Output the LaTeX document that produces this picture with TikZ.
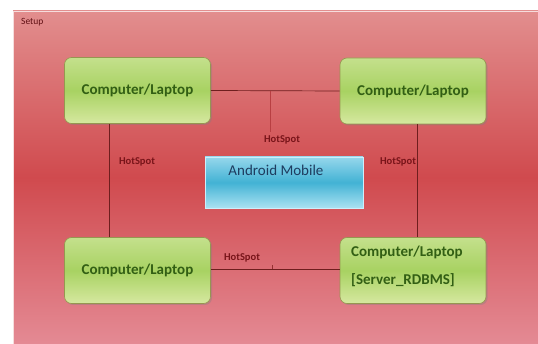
\documentclass[tikz,border=0pt]{standalone}
\usepackage{fontspec}
\setmainfont{Carlito}
\usetikzlibrary{shadows}
\definecolor{bgtop}{RGB}{226,142,142}
\definecolor{bgmid}{RGB}{208,74,78}
\definecolor{bgbot}{RGB}{228,138,148}
\definecolor{gtop}{RGB}{196,224,140}
\definecolor{gmid}{RGB}{168,210,98}
\definecolor{gbot}{RGB}{214,232,160}
\definecolor{gtext}{RGB}{50,95,20}
\definecolor{gline}{RGB}{150,150,80}
\definecolor{ctop}{RGB}{150,215,236}
\definecolor{cmid}{RGB}{66,178,212}
\definecolor{cbot}{RGB}{170,226,242}
\definecolor{ctext}{RGB}{30,60,95}
\definecolor{hot}{RGB}{120,20,25}
\definecolor{conn}{RGB}{110,30,30}
\tikzset{
  pcbox/.style={rounded corners=7pt, draw=gline, line width=0.6pt,
    top color=gtop, bottom color=gbot, middle color=gmid,
    drop shadow={shadow xshift=1.5pt, shadow yshift=-1.5pt, opacity=0.35},
    minimum width=146pt, minimum height=66pt, text=gtext,
    font=\fontsize{15}{17}\selectfont\bfseries, inner sep=0pt},
  pctext/.style={text=gtext, font=\fontsize{15}{17}\selectfont\bfseries, inner sep=0pt},
  mobbox/.style={draw=white!80!cyan, line width=0.8pt,
    top color=ctop, bottom color=cbot, middle color=cmid,
    minimum width=158pt, minimum height=51pt, inner sep=0pt},
  hotlbl/.style={text=hot, font=\fontsize{10.5}{12}\selectfont\bfseries, inner sep=1pt},
  link/.style={draw=conn, line width=0.7pt}
}
\begin{document}
\begin{tikzpicture}[x=1pt,y=-1pt]
\useasboundingbox (0,0) rectangle (538,344);
\fill[white] (0,0) rectangle (538,344);
\shade[top color=bgtop, bottom color=bgbot, middle color=bgmid] (13,11) rectangle (538,344);
\draw[white!70!bgtop, line width=0.6pt] (13,11) -- (538,11) (13,11) -- (13,344);
\node[anchor=west, text=hot!80!black, font=\fontsize{9.5}{10}\selectfont, inner sep=0pt] (setup) at (21,22) {Setup};

\node[pcbox] (tl) at (137.5,90.5) {Computer/Laptop};
\node[pcbox] (tr) at (413,91) {Computer/Laptop};
\node[pcbox] (bl) at (137.5,270.5) {Computer/Laptop};
\node[pcbox] (br) at (413,270.5) {};
\node[pctext, anchor=west] (brt1) at (351,252) {Computer/Laptop};
\node[pctext, anchor=west] (brt2) at (351,280) {[Server\_RDBMS]};

\node[mobbox] (am) at (284,182.5) {};
\node[text=ctext, font=\fontsize{15}{17}\selectfont, inner sep=0pt] (amt) at (276,170) {Android Mobile};

\draw[link] (tl.east) -- (tr.west);
\draw[link] (tl.south -| 109,0) -- (bl.north -| 109,0);
\draw[link] (tr.south -| 417,0) -- (br.north -| 417,0);
\draw[link] (bl.east |- 0,269) -- (br.west |- 0,269);
\draw[conn!25!bgmid, line width=0.4pt] (270,91) -- (270,132);
\draw[conn!60!bgmid, line width=0.6pt] (272,269) -- (272,265);

\node[hotlbl] (h1) at (137,162) {HotSpot};
\node[hotlbl] (h2) at (282,140) {HotSpot};
\node[hotlbl] (h3) at (398,162) {HotSpot};
\node[hotlbl] (h4) at (242,258) {HotSpot};
\end{tikzpicture}
\end{document}
